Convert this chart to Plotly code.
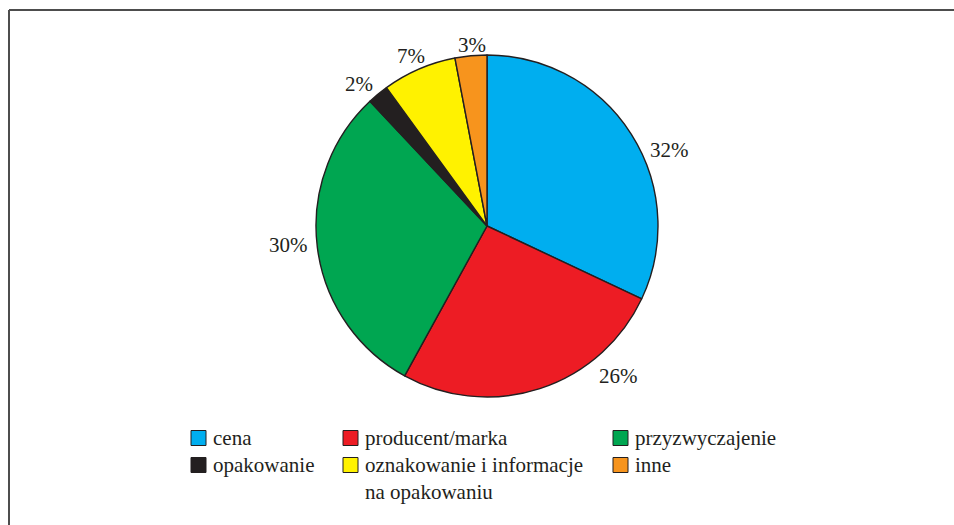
import plotly.graph_objects as go

# Survey shares (percent), listed clockwise from 12 o'clock
categories = ["cena", "producent/marka", "przyzwyczajenie", "opakowanie",
              "oznakowanie i informacje<br>na opakowaniu", "inne"]
shares = [32, 26, 30, 2, 7, 3]
colors = ["#00aeef", "#ed1c24", "#00a651", "#231f20", "#fff200", "#f7941d"]

W, H = 954, 525
FONT = "Liberation Serif"
INK = "#231f20"


def px(x):
    return x / W


def py(y):
    return 1 - y / H


# Pie geometry (pixels): centre and radius
cx, cy, r = 487, 226, 171

fig = go.Figure(go.Pie(
    labels=categories,
    values=shares,
    sort=False,
    direction="clockwise",
    rotation=0,
    marker=dict(colors=colors, line=dict(color=INK, width=1.4)),
    textinfo="none",
    hoverinfo="label+percent",
    showlegend=False,
    domain=dict(x=[px(cx - r), px(cx + r)], y=[py(cy + r), py(cy - r)]),
))

# Percentage label placement (pixel centres), one per slice
label_pos = [(669, 150), (618, 376), (288, 245), (359, 84), (411, 56), (472, 45)]
annotations = []
for v, (lx, ly) in zip(shares, label_pos):
    annotations.append(dict(
        x=px(lx), y=py(ly), xref="paper", yref="paper",
        text=f"{v}%", showarrow=False, xanchor="center", yanchor="middle",
        font=dict(family=FONT, size=21, color=INK),
    ))

# Hand-laid legend: three columns, two rows
col_x = [191, 343, 613]
row_y = [438, 465]
box = 15
shapes = []
for i, (name, c) in enumerate(zip(categories, colors)):
    x0 = col_x[i % 3]
    yc = row_y[i // 3]
    shapes.append(dict(
        type="rect", xref="paper", yref="paper",
        x0=px(x0), x1=px(x0 + box), y0=py(yc + box / 2), y1=py(yc - box / 2),
        fillcolor=c, line=dict(color=INK, width=1),
    ))
    annotations.append(dict(
        x=px(x0 + box + 5), y=py(yc - 14), xref="paper", yref="paper",
        text=name, showarrow=False, xanchor="left", yanchor="top", align="left",
        font=dict(family=FONT, size=21, color=INK),
    ))

# Frame edges along the top and left
shapes.append(dict(type="line", xref="paper", yref="paper",
                   x0=px(9), x1=1.01, y0=py(10), y1=py(10),
                   line=dict(color="#4d4d4d", width=2)))
shapes.append(dict(type="line", xref="paper", yref="paper",
                   x0=px(9), x1=px(9), y0=py(10), y1=-0.01,
                   line=dict(color="#4d4d4d", width=2)))

fig.update_layout(
    width=W, height=H,
    margin=dict(l=0, r=0, t=0, b=0),
    paper_bgcolor="white", plot_bgcolor="white",
    font=dict(family=FONT),
    annotations=annotations,
    shapes=shapes,
)

fig.write_html("out.html")
